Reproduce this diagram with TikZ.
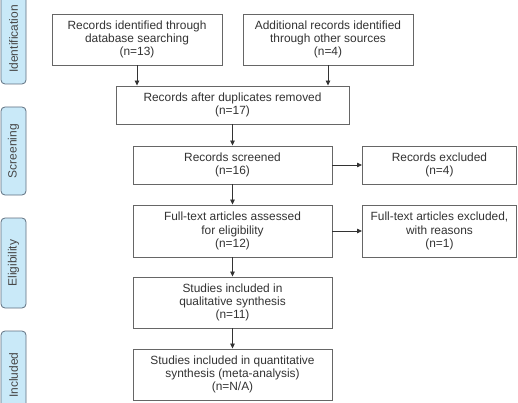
\documentclass[tikz,border=0pt]{standalone}
\usepackage{fontspec}
\setmainfont{Liberation Sans}
\usetikzlibrary{arrows.meta}
\definecolor{boxline}{HTML}{666666}
\definecolor{txt}{HTML}{333333}
\definecolor{sidefill}{HTML}{C9E9F8}
\definecolor{sideline}{HTML}{5F6F7F}
\begin{document}
\begin{tikzpicture}[x=1pt,y=-1pt,
  box/.style={draw=boxline,line width=0.9pt,fill=white,align=center,text=txt,
    font=\fontsize{11.9}{13.3}\selectfont,inner sep=0pt},
  side/.style={draw=sideline,line width=0.8pt,fill=sidefill,rounded corners=4pt,
    minimum width=90pt,minimum height=25pt,rotate=90,text=txt!90,
    font=\fontsize{12}{14}\selectfont,inner sep=0pt},
  arr/.style={draw=txt,line width=0.8pt,-{Triangle[length=5pt,width=4.5pt]}}]
\useasboundingbox (0,0) rectangle (518,403);
\clip (0,0) rectangle (518,403);
\node[side,minimum width=96pt] (s1) at (13.5,36) {};
\node[rotate=90,text=txt!90,font=\fontsize{12}{14}\selectfont,inner sep=0pt] (t1) at (13.5,39) {Identification};
\node[side,minimum width=88pt] (s2) at (13.5,151) {Screening};
\node[side] (s3) at (13.5,263) {Eligibility};
\node[side,minimum width=88pt] (s4) at (13.5,375) {Included};

\node[box,minimum width=170pt,minimum height=51pt] (b1) at (137,39.5)
  {Records identified through\\database searching\\(n=13)};
\node[box,minimum width=170pt,minimum height=51pt] (b2) at (328,39.5)
  {Additional records identified\\through other sources\\(n=4)};
\node[box,minimum width=233pt,minimum height=38pt] (b3) at (232.5,105)
  {Records after duplicates removed\\(n=17)};
\node[box,minimum width=199pt,minimum height=38pt] (b4) at (232.5,165)
  {Records screened\\(n=16)};
\node[box,minimum width=154pt,minimum height=38pt,anchor=west] (b5) at (362,165)
  {Records excluded\\(n=4)};
\node[box,minimum width=199pt,minimum height=52pt] (b6) at (232.5,231)
  {Full-text articles assessed\\for eligibility\\(n=12)};
\node[box,minimum width=154pt,minimum height=52pt,anchor=west] (b7) at (362,231)
  {Full-text articles excluded,\\with reasons\\(n=1)};
\node[box,minimum width=199pt,minimum height=51pt] (b8) at (232.5,302.5)
  {Studies included in\\qualitative synthesis\\(n=11)};
\node[box,minimum width=199pt,minimum height=51pt] (b9) at (232.5,374.5)
  {Studies included in quantitative\\synthesis (meta-analysis)\\(n=N/A)};

\draw[arr] (b1.south) -- (b1.south |- b3.north);
\draw[arr] (b2.south) -- (b2.south |- b3.north);
\draw[arr] (b3.south) -- (b4.north);
\draw[arr] (b4.east) -- (b5.west);
\draw[arr] (b4.south) -- (b6.north);
\draw[arr] (b6.east) -- (b7.west);
\draw[arr] (b6.south) -- (b8.north);
\draw[arr] (b8.south) -- (b9.north);
\end{tikzpicture}
\end{document}
